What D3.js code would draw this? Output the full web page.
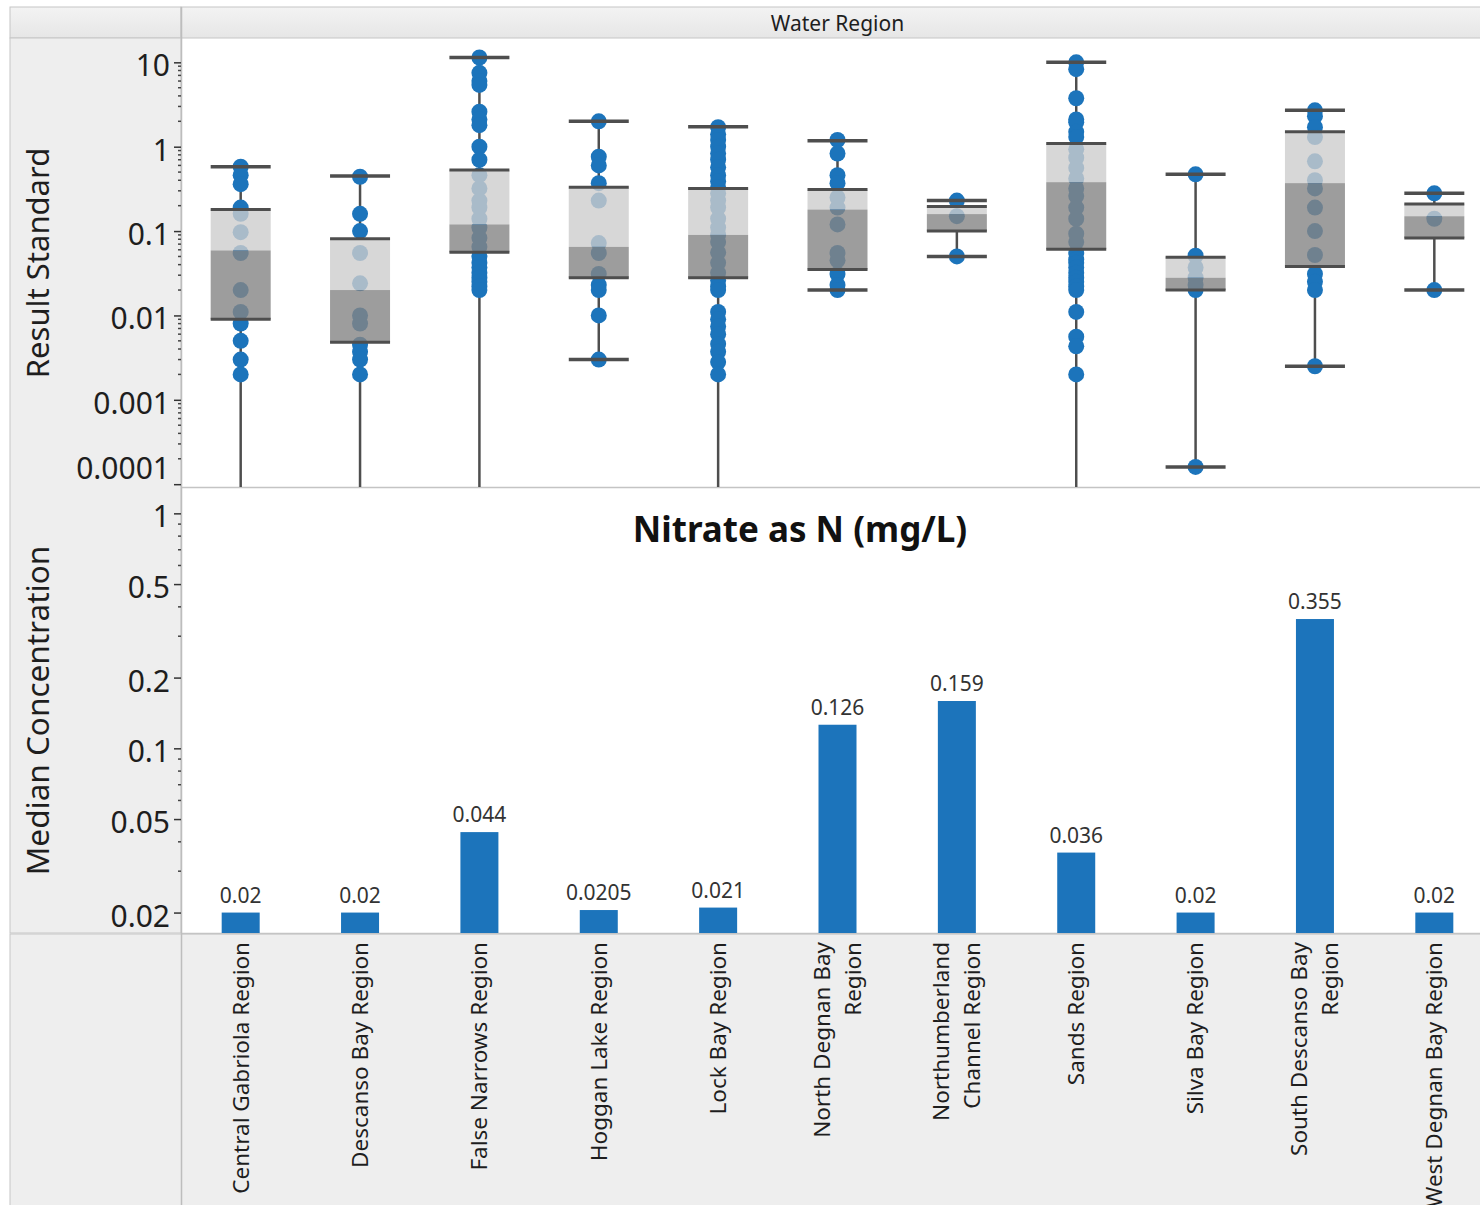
<!DOCTYPE html>
<html>
<head>
<meta charset="utf-8">
<script src="https://cdn.jsdelivr.net/npm/d3@7"></script>
<style>
  html, body { margin: 0; padding: 0; background: #ffffff; }
  svg { display: block; font-family: "Noto Sans", "Open Sans", sans-serif; }
</style>
</head>
<body>
<svg id="chart" width="1480" height="1205"></svg>
<script>
// ---------------- DATA ----------------
const categories = [
  "Central Gabriola Region", "Descanso Bay Region", "False Narrows Region",
  "Hoggan Lake Region", "Lock Bay Region", "North Degnan Bay Region",
  "Northumberland Channel Region", "Sands Region", "Silva Bay Region",
  "South Descanso Bay Region", "West Degnan Bay Region"
];
const categoryLabelLines = [
  ["Central Gabriola Region"], ["Descanso Bay Region"], ["False Narrows Region"],
  ["Hoggan Lake Region"], ["Lock Bay Region"], ["North Degnan Bay", "Region"],
  ["Northumberland", "Channel Region"], ["Sands Region"], ["Silva Bay Region"],
  ["South Descanso Bay", "Region"], ["West Degnan Bay Region"]
];

// Result Standard box plot statistics (0 = whisker reaches below the axis)
const upperWhisker = [0.58, 0.45, 11.4, 2.0, 1.72, 1.18, 0.23, 10, 0.47, 2.7, 0.28];
const q3Values     = [0.18, 0.081, 0.53, 0.33, 0.32, 0.31, 0.195, 1.09, 0.049, 1.5, 0.21];
const medianValues = [0.059, 0.02, 0.12, 0.065, 0.09, 0.18, 0.159, 0.38, 0.028, 0.37, 0.15];
const q1Values     = [0.009, 0.0048, 0.056, 0.028, 0.028, 0.035, 0.1, 0.061, 0.02, 0.038, 0.083];
const lowerWhisker = [0, 0, 0, 0.003, 0, 0.02, 0.05, 0, 0.00016, 0.0025, 0.02];

// Result Standard individual observations per region
const pointsCentralGabriola = [0.58, 0.46, 0.36, 0.19, 0.16, 0.097, 0.055, 0.02, 0.011, 0.008, 0.005, 0.003, 0.002];
const pointsDescansoBay = [0.44, 0.16, 0.1, 0.055, 0.024, 0.01, 0.008, 0.0045, 0.0037, 0.003, 0.002];
const pointsFalseNarrows = [11.4, 7.5, 6, 5.4, 2.6, 2.1, 1.8, 1.0, 0.7, 0.46, 0.32, 0.23, 0.19, 0.14, 0.11, 0.083, 0.065, 0.05, 0.042, 0.037, 0.032, 0.028, 0.025, 0.022, 0.02];
const pointsHogganLake = [2.0, 0.76, 0.6, 0.37, 0.23, 0.072, 0.055, 0.031, 0.023, 0.02, 0.01, 0.003];
const pointsLockBay = [1.7, 1.4, 1.2, 1.0, 0.83, 0.7, 0.57, 0.46, 0.39, 0.33, 0.28, 0.23, 0.19, 0.14, 0.11, 0.09, 0.074, 0.056, 0.042, 0.032, 0.026, 0.022, 0.02, 0.011, 0.009, 0.0074, 0.006, 0.0046, 0.0037, 0.0028, 0.002];
const pointsNorthDegnan = [1.2, 0.83, 0.46, 0.37, 0.25, 0.19, 0.12, 0.055, 0.045, 0.031, 0.023, 0.02];
const pointsNorthumberland = [0.23, 0.15, 0.05];
const pointsSands = [10, 8.3, 3.75, 2.1, 1.95, 1.5, 1.3, 0.93, 0.74, 0.56, 0.42, 0.32, 0.26, 0.19, 0.14, 0.093, 0.074, 0.055, 0.046, 0.042, 0.037, 0.032, 0.028, 0.025, 0.022, 0.02, 0.011, 0.0056, 0.0043, 0.002];
const pointsSilvaBay = [0.47, 0.051, 0.037, 0.028, 0.023, 0.02, 0.00016];
const pointsSouthDescanso = [2.7, 2.3, 1.7, 1.3, 0.67, 0.4, 0.32, 0.19, 0.1, 0.052, 0.031, 0.025, 0.02, 0.0025];
const pointsWestDegnan = [0.28, 0.14, 0.02];
const pointsByRegion = [pointsCentralGabriola, pointsDescansoBay, pointsFalseNarrows, pointsHogganLake,
  pointsLockBay, pointsNorthDegnan, pointsNorthumberland, pointsSands, pointsSilvaBay,
  pointsSouthDescanso, pointsWestDegnan];

// Median Concentration (Nitrate as N, mg/L)
const medianConcentration = [0.02, 0.02, 0.044, 0.0205, 0.021, 0.126, 0.159, 0.036, 0.02, 0.355, 0.02];

// Axis ticks
const topTickValues = [10, 1, 0.1, 0.01, 0.001, 0.0001];
const topTickLabels = ["10", "1", "0.1", "0.01", "0.001", "0.0001"];
const bottomTickValues = [1, 0.5, 0.2, 0.1, 0.05, 0.02];
const bottomTickLabels = ["1", "0.5", "0.2", "0.1", "0.05", "0.02"];

const headerTitle = "Water Region";
const topAxisTitle = "Result Standard";
const bottomAxisTitle = "Median Concentration";
const bottomChartTitle = "Nitrate as N (mg/L)";

// ---------------- LAYOUT ----------------
const svg = d3.select("#chart");
const plotLeft = 181, plotRight = 1480, bandEnd = 1494;
const headerTop = 7, headerBottom = 38;
const topPanelTop = 39, topPanelBottom = 487;
const botPanelTop = 488, botPanelBottom = 933;
const labelTop = 934, pageBottom = 1205;

const panelFill = "#eeeeee", borderCol = "#c6c6c6";
const blue = "#1c74bb", lineCol = "#4e4e4e", textCol = "#1e1e1e";

const x = d3.scaleBand().domain(categories).range([plotLeft, bandEnd]).padding(0);
const cx = c => x(c) + x.bandwidth() / 2;

const yTop = d3.scaleLog().domain([9.26e-5, 18.9]).range([topPanelBottom, topPanelTop]);
const yBot = d3.scaleLog().domain([0.01637, 1.282]).range([botPanelBottom, botPanelTop]);

// ---------------- BACKGROUND PANELS ----------------
const defs = svg.append("defs");
const hg = defs.append("linearGradient").attr("id", "hdr").attr("x1", 0).attr("y1", 0).attr("x2", 0).attr("y2", 1);
hg.append("stop").attr("offset", "0%").attr("stop-color", "#f3f3f3");
hg.append("stop").attr("offset", "100%").attr("stop-color", "#e6e6e6");
defs.append("clipPath").attr("id", "clipTop").append("rect")
  .attr("x", plotLeft).attr("y", topPanelTop).attr("width", plotRight - plotLeft).attr("height", topPanelBottom - topPanelTop);
defs.append("clipPath").attr("id", "clipBot").append("rect")
  .attr("x", plotLeft).attr("y", botPanelTop).attr("width", plotRight - plotLeft).attr("height", botPanelBottom - botPanelTop);

svg.append("rect").attr("x", 0).attr("y", 0).attr("width", 1480).attr("height", 1205).attr("fill", "#ffffff");
svg.append("rect").attr("x", 10).attr("y", headerTop).attr("width", plotLeft - 10).attr("height", headerBottom - headerTop)
  .attr("fill", "url(#hdr)").attr("stroke", borderCol);
svg.append("rect").attr("x", plotLeft).attr("y", headerTop).attr("width", plotRight - plotLeft + 5).attr("height", headerBottom - headerTop)
  .attr("fill", "url(#hdr)").attr("stroke", borderCol);
svg.append("rect").attr("x", 10).attr("y", headerBottom).attr("width", plotLeft - 10).attr("height", botPanelBottom - headerBottom)
  .attr("fill", panelFill).attr("stroke", borderCol);
svg.append("rect").attr("x", 10).attr("y", labelTop).attr("width", plotRight - 10 + 5).attr("height", pageBottom - labelTop + 5)
  .attr("fill", panelFill).attr("stroke", borderCol);
svg.append("rect").attr("x", plotLeft).attr("y", topPanelTop).attr("width", plotRight - plotLeft + 5).attr("height", botPanelBottom - topPanelTop)
  .attr("fill", "#ffffff");
svg.append("line").attr("x1", plotLeft).attr("x2", plotRight).attr("y1", topPanelBottom + 0.5).attr("y2", topPanelBottom + 0.5)
  .attr("stroke", "#c4c4c4").attr("stroke-width", 1.5);
svg.append("line").attr("x1", plotLeft).attr("x2", plotRight).attr("y1", botPanelBottom + 0.5).attr("y2", botPanelBottom + 0.5)
  .attr("stroke", "#c4c4c4").attr("stroke-width", 1.5);
svg.append("line").attr("x1", plotLeft + 0.5).attr("x2", plotLeft + 0.5).attr("y1", headerTop).attr("y2", pageBottom)
  .attr("stroke", "#bdbdbd").attr("stroke-width", 1.5);

svg.append("text").attr("x", (plotLeft + bandEnd) / 2).attr("y", 24).attr("dy", "0.35em")
  .attr("text-anchor", "middle").attr("font-size", 21).attr("fill", textCol).text(headerTitle);

// ---------------- AXES ----------------
function drawAxis(scale, values, labels, minorValues, clipBottomLabelShift) {
  const g = svg.append("g").attr("transform", `translate(${plotLeft},0)`);
  const ax = d3.axisLeft(scale).tickValues(values).tickFormat((d, i) => labels[i]).tickSize(7).tickPadding(4);
  g.call(ax);
  g.select(".domain").remove();
  g.selectAll(".tick line").attr("stroke", "#333").attr("stroke-width", 1.5);
  g.selectAll(".tick text").attr("font-size", 30).attr("fill", textCol)
    .attr("font-family", "'Noto Sans', sans-serif").attr("dy", "0.45em");
  if (clipBottomLabelShift) {
    g.selectAll(".tick text").filter((d, i) => i === values.length - 1).attr("dy", "-0.2em");
  }
  g.selectAll(".minor").data(minorValues).enter().append("line")
    .attr("x1", -3).attr("x2", 0).attr("y1", d => scale(d)).attr("y2", d => scale(d))
    .attr("stroke", "#444").attr("stroke-width", 1.5);
}
const topMinor = yTop.ticks().filter(d => !topTickValues.some(t => Math.abs(t - d) / t < 1e-6));
const botMinor = yBot.ticks().filter(d => !bottomTickValues.some(t => Math.abs(t - d) / t < 1e-6) && d <= 1 && d >= 0.02);
drawAxis(yTop, topTickValues, topTickLabels, topMinor, true);
drawAxis(yBot, bottomTickValues, bottomTickLabels, botMinor, false);

svg.append("text").attr("transform", `translate(38,${(topPanelTop + topPanelBottom) / 2}) rotate(-90)`)
  .attr("text-anchor", "middle").attr("dy", "0.35em").attr("font-size", 31).attr("fill", textCol).text(topAxisTitle);
svg.append("text").attr("transform", `translate(38,${(botPanelTop + botPanelBottom) / 2}) rotate(-90)`)
  .attr("text-anchor", "middle").attr("dy", "0.35em").attr("font-size", 31.5).attr("fill", textCol).text(bottomAxisTitle);

// ---------------- TOP: BOX PLOTS ----------------
const gTop = svg.append("g").attr("clip-path", "url(#clipTop)");
const boxW = 60;
const yLow = v => (v > 0 ? yTop(v) : topPanelBottom + 2);

categories.forEach((c, i) => {
  const xc = cx(c);
  gTop.append("line").attr("x1", xc).attr("x2", xc).attr("y1", yTop(upperWhisker[i])).attr("y2", yTop(q3Values[i]))
    .attr("stroke", lineCol).attr("stroke-width", 2.5);
  gTop.append("line").attr("x1", xc).attr("x2", xc).attr("y1", yTop(q1Values[i])).attr("y2", yLow(lowerWhisker[i]))
    .attr("stroke", lineCol).attr("stroke-width", 2.5);
  gTop.selectAll(null).data(pointsByRegion[i]).enter().append("circle")
    .attr("cx", xc).attr("cy", d => yTop(d)).attr("r", 8).attr("fill", blue);
  gTop.append("rect").attr("x", xc - boxW / 2).attr("width", boxW)
    .attr("y", yTop(q3Values[i])).attr("height", yTop(medianValues[i]) - yTop(q3Values[i]))
    .attr("fill", "rgb(205,205,205)").attr("fill-opacity", 0.8);
  gTop.append("rect").attr("x", xc - boxW / 2).attr("width", boxW)
    .attr("y", yTop(medianValues[i])).attr("height", yTop(q1Values[i]) - yTop(medianValues[i]))
    .attr("fill", "rgb(132,132,132)").attr("fill-opacity", 0.8);
  const hl = (v, w) => gTop.append("line").attr("x1", xc - boxW / 2).attr("x2", xc + boxW / 2)
    .attr("y1", yTop(v)).attr("y2", yTop(v)).attr("stroke", lineCol).attr("stroke-width", w);
  hl(q3Values[i], 3); hl(q1Values[i], 3);
  hl(upperWhisker[i], 3.5);
  if (lowerWhisker[i] > 0) hl(lowerWhisker[i], 3.5);
});

// ---------------- BOTTOM: BAR CHART ----------------
const gBot = svg.append("g").attr("clip-path", "url(#clipBot)");
const barW = 38;
gBot.selectAll("rect.bar").data(medianConcentration).enter().append("rect").attr("class", "bar")
  .attr("x", (d, i) => cx(categories[i]) - barW / 2).attr("width", barW)
  .attr("y", d => yBot(d)).attr("height", d => yBot.range()[0] - yBot(d) + 1)
  .attr("fill", blue);
gBot.selectAll("text.val").data(medianConcentration).enter().append("text").attr("class", "val")
  .attr("x", (d, i) => cx(categories[i])).attr("y", d => yBot(d) - 10)
  .attr("text-anchor", "middle").attr("font-size", 21).attr("fill", "#333").text(d => String(d));

svg.append("text").attr("x", 800).attr("y", 530).attr("dy", "0.35em").attr("text-anchor", "middle")
  .attr("font-size", 35).attr("font-weight", "bold").attr("fill", "#111").text(bottomChartTitle);

// ---------------- CATEGORY LABELS ----------------
const gLab = svg.append("g");
categories.forEach((c, i) => {
  const lines = categoryLabelLines[i];
  const n = lines.length;
  lines.forEach((ln, k) => {
    const off = (k - (n - 1) / 2) * 31;
    gLab.append("text").attr("transform", `translate(${cx(c) + off},${labelTop + 8}) rotate(-90)`)
      .attr("text-anchor", "end").attr("dy", "0.35em").attr("font-size", 22.5).attr("fill", textCol).text(ln);
  });
});
</script>
</body>
</html>
